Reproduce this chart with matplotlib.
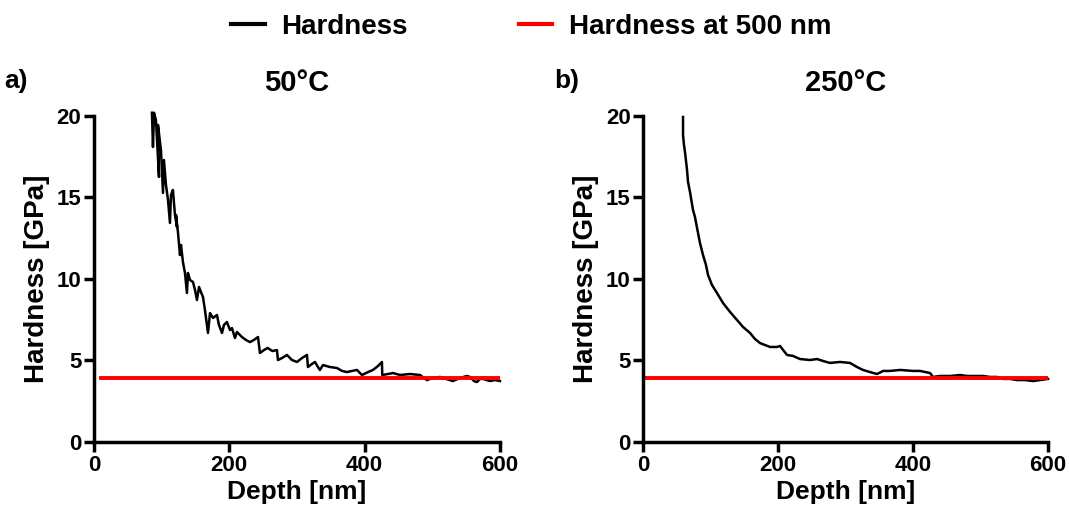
import matplotlib
matplotlib.use("Agg")
import matplotlib.pyplot as plt

plt.rcParams['font.family'] = ['Liberation Sans', 'DejaVu Sans']
plt.rcParams['font.weight'] = 'bold'

# 50 C indentation: depth [nm], hardness [GPa]
depth_50 = [85.7, 87.2, 88.7, 91.6, 96.1, 94.6, 99.0, 102.0, 103.4, 106.4, 109.4, 112.3,
            113.8, 116.7, 119.7, 122.7, 121.2, 124.1, 127.1, 128.6, 131.5, 134.5, 137.4,
            138.9, 141.9, 146.3, 149.3, 152.2, 155.2, 158.1, 161.1, 164.0, 168.5, 171.5,
            175.9, 181.8, 184.7, 189.2, 192.1, 196.5, 201.0, 203.9, 208.4, 211.3, 218.7,
            224.6, 230.5, 236.4, 242.4, 245.3, 251.2, 256.7, 263.5, 270.4, 271.9, 277.8,
            285.2, 292.6, 300.0, 307.4, 314.8, 316.2, 322.2, 326.6, 331.0, 333.9, 338.4,
            348.8, 359.1, 366.5, 373.9, 381.3, 388.7, 393.1, 396.1, 405.0, 412.3, 419.7,
            425.6, 426.0, 434.5, 441.9, 452.2, 467.0, 481.8, 487.7, 492.1, 501.0, 511.3,
            520.2, 530.5, 540.9, 551.2, 555.7, 561.6, 566.0, 570.4, 574.9, 585.2, 592.6, 600.0]
hard_50 = [20.2, 18.1, 20.2, 19.75, 16.26, 19.45, 17.91, 15.28, 17.3, 15.77, 14.85, 13.44,
           15.15, 15.46, 13.93, 13.19, 13.93, 12.88, 11.47, 12.09, 11.04, 10.37, 9.14,
           10.37, 9.94, 9.82, 9.33, 8.71, 9.51, 9.2, 8.9, 8.1, 6.69, 7.91,
           7.61, 7.79, 7.18, 6.69, 7.18, 7.36, 6.87, 6.99, 6.38, 6.75, 6.44,
           6.26, 6.13, 6.26, 6.44, 5.46, 5.64, 5.77, 5.58, 5.64, 5.03, 5.15,
           5.34, 5.03, 4.91, 5.15, 5.34, 4.6, 4.79, 4.91, 4.6, 4.42, 4.72,
           4.6, 4.54, 4.36, 4.29, 4.36, 4.42, 4.23, 4.11, 4.29, 4.42, 4.66,
           4.91, 4.11, 4.17, 4.23, 4.11, 4.17, 4.11, 3.93, 3.80, 3.93, 3.99,
           3.87, 3.74, 3.93, 4.05, 3.99, 3.74, 3.68, 3.87, 3.87, 3.74, 3.80, 3.74]

# 250 C indentation
depth_250 = [59.3, 59.3, 60.7, 62.2, 65.2, 66.7, 69.6, 74.1, 77.0, 81.5, 84.4, 88.9, 93.3,
             96.3, 102.2, 109.6, 118.5, 128.9, 139.3, 148.1, 158.5, 165.9, 173.3, 180.7,
             188.1, 198.5, 203.0, 213.3, 222.2, 232.6, 247.4, 257.8, 266.7, 277.0, 291.9,
             306.7, 317.0, 325.9, 336.3, 346.7, 355.6, 366.0, 380.8, 400.0, 410.4, 425.2,
             429.6, 440.0, 454.8, 469.6, 480.0, 491.9, 503.7, 514.1, 524.4, 533.3, 543.7,
             554.1, 565.9, 577.8, 588.1, 600.0]
hard_250 = [19.94, 18.83, 18.22, 17.79, 16.69, 15.95, 15.34, 14.23, 13.8, 12.82, 12.21, 11.47,
            10.86, 10.25, 9.63, 9.14, 8.53, 7.98, 7.48, 7.06, 6.69, 6.32, 6.07, 5.95,
            5.83, 5.83, 5.89, 5.34, 5.28, 5.09, 5.03, 5.09, 4.97, 4.85, 4.91,
            4.85, 4.6, 4.42, 4.29, 4.17, 4.36, 4.36, 4.42, 4.36, 4.36, 4.23,
            3.99, 4.05, 4.05, 4.11, 4.05, 4.05, 4.05, 3.99, 3.99, 3.87, 3.87,
            3.80, 3.80, 3.74, 3.80, 3.87]

ref_depth_50 = [10, 600]
ref_depth_250 = [5, 600]
ref_hard = 3.9  # hardness at 500 nm

panels = [("a)", "50°C", depth_50, hard_50, ref_depth_50),
          ("b)", "250°C", depth_250, hard_250, ref_depth_250)]
positions = [[0.0879, 0.1384, 0.3798, 0.6355], [0.6015, 0.1384, 0.3789, 0.6355]]

fig = plt.figure(figsize=(10.69, 5.13), dpi=100)
for (tag, title, d, h, rd), pos in zip(panels, positions):
    ax = fig.add_axes(pos)
    l1, = ax.plot(d, h, color='black', lw=1.8, clip_on=False, label='Hardness')
    l2, = ax.plot(rd, [ref_hard, ref_hard], color='#ff0000', lw=2.8, label='Hardness at 500 nm')
    ax.set_xlim(0, 600)
    ax.set_ylim(0, 20)
    ax.set_xticks([0, 200, 400, 600])
    ax.set_yticks([0, 5, 10, 15, 20])
    for s in ['top', 'right']:
        ax.spines[s].set_visible(False)
    for s in ['left', 'bottom']:
        ax.spines[s].set_linewidth(2.5)
    ax.tick_params(width=2.5, length=7, labelsize=16, pad=2)
    ax.set_xlabel('Depth [nm]', fontsize=19, fontweight='bold', labelpad=3)
    ax.set_ylabel('Hardness [GPa]', fontsize=20, fontweight='bold', labelpad=5)
    ax.set_title(title, fontsize=21, fontweight='bold', pad=18)
    ax.text(-0.22, 1.085, tag, transform=ax.transAxes, fontsize=19, fontweight='bold')

leg = fig.legend([l1, l2], ['Hardness', 'Hardness at 500 nm'], loc='upper center',
                 bbox_to_anchor=(0.497, 1.022), ncol=2, frameon=False, fontsize=20,
                 handlelength=1.2, columnspacing=4.0, handletextpad=0.6)
for ln in leg.get_lines():
    ln.set_linewidth(3)
fig.savefig('out.png', dpi=100)
